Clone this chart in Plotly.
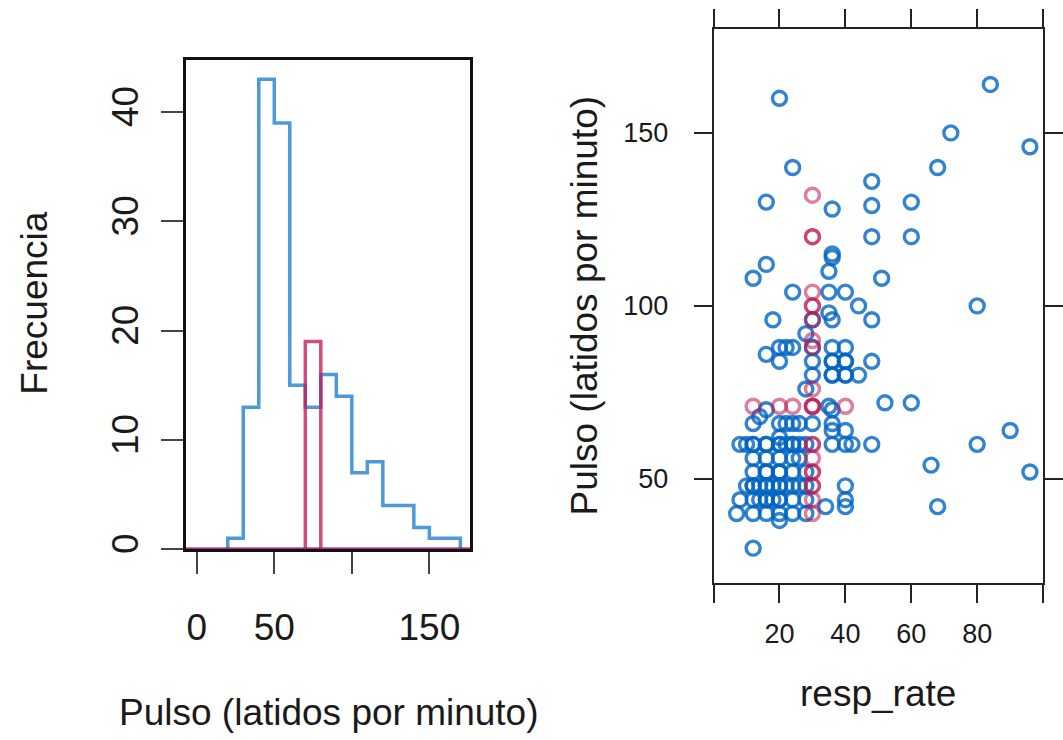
import plotly.graph_objects as go

# ---------------- data ----------------
# Histogram of pulse (observed = blue, imputed = red), bins of width 10
bin_edges_obs = [20, 30, 40, 50, 60, 70, 80, 90, 100, 110, 120, 130, 140, 150, 160, 170]
counts_obs = [1, 13, 43, 39, 15, 13, 16, 14, 7, 8, 4, 4, 2, 1, 1]
bin_edges_imp = [70, 80]
counts_imp = [19]

hist_xticks = [0, 50, 100, 150]
hist_xticklabels = ["0", "50", "", "150"]
hist_yticks = [0, 10, 20, 30, 40]
hist_xrange = [-7.2, 176.5]
hist_yrange = [0, 44.8]

# Scatter resp_rate vs pulse (observed = blue, imputed = red)
resp_obs = [20, 84, 72, 96, 24, 68, 48, 16, 36, 48, 60, 48, 60, 36, 36, 16, 35, 12, 51,
            24, 35, 40, 44, 80, 18, 30, 35, 36, 48, 28,
            20, 22, 24, 36, 40, 30, 16,
            20, 30, 36, 40, 48, 36, 40,
            30, 36, 40, 44, 36, 40,
            28, 52, 60, 35, 16, 36, 14,
            12, 20, 22, 24, 26, 30, 36, 36, 40,
            8, 10, 12, 16, 20, 22, 24, 26, 28, 36, 40, 42, 48, 80, 12, 16, 20, 24, 90,
            12, 16, 20, 24, 26, 20, 66,
            12, 16, 20, 24, 28, 16, 20, 96,
            10, 12, 14, 16, 18, 20, 22, 24, 26, 28, 40, 12, 16, 20,
            8, 12, 14, 16, 18, 20, 24, 28, 40, 16, 20,
            34, 40, 68,
            7, 12, 16, 20, 24, 28, 20, 12]
pulse_obs = [160, 164, 150, 146, 140, 140, 136, 130, 128, 129, 130, 120, 120, 114, 115, 112, 110, 108, 108,
             104, 104, 104, 100, 100, 96, 96, 98, 96, 96, 92,
             88, 88, 88, 88, 88, 88, 86,
             84, 84, 84, 84, 84, 84, 84,
             80, 80, 80, 80, 80, 80,
             76, 72, 72, 71, 70, 70, 68,
             66, 66, 66, 66, 66, 66, 66, 64, 64,
             60, 60, 60, 60, 60, 60, 60, 60, 60, 60, 60, 60, 60, 60, 60, 60, 60, 60, 64,
             56, 56, 56, 56, 56, 62, 54,
             52, 52, 52, 52, 52, 52, 52, 52,
             48, 48, 48, 48, 48, 48, 48, 48, 48, 48, 48, 48, 48, 48,
             44, 44, 44, 44, 44, 44, 44, 44, 44, 44, 44,
             42, 42, 42,
             40, 40, 40, 40, 40, 40, 38, 30]
resp_imp = [30, 30, 30, 30, 30, 30, 30, 30, 30, 30, 12, 20, 24, 30, 30, 30, 40,
            30, 30, 30, 30, 30, 30, 30, 30, 30]
pulse_imp = [132, 120, 120, 104, 100, 100, 96, 90, 88, 76, 71, 71, 71, 71, 71, 71, 71,
             60, 60, 56, 52, 52, 48, 48, 44, 40]

sc_xticks = [0, 20, 40, 60, 80, 100]
sc_xticklabels = ["", "20", "40", "60", "80", ""]
sc_yticks = [50, 100, 150]
sc_xrange = [0, 100]
sc_yrange = [20, 180]

# ---------------- style ----------------
BLUE_LINE = "rgba(0,110,205,0.70)"
RED_LINE = "rgba(195,25,90,0.78)"
BLUE_PT = "rgba(0,100,195,0.80)"
RED_PT = "rgba(190,20,80,0.55)"
FONT = "Liberation Sans, Arial, sans-serif"
TXT = "#1a1a1a"

W, H = 1063, 740


def xd(px):
    return px / W


def yd(py):
    return (H - py) / H


def step_path(edges, counts):
    xs, ys = [edges[0]], [0]
    for i, c in enumerate(counts):
        xs += [edges[i], edges[i + 1]]
        ys += [c, c]
    xs.append(edges[-1])
    ys.append(0)
    return xs, ys


fig = go.Figure()

bx, by = step_path(bin_edges_obs, counts_obs)
rx, ry = step_path(bin_edges_imp, counts_imp)

fig.add_trace(go.Scatter(x=hist_xrange, y=[0, 0], mode="lines", line=dict(color=BLUE_LINE, width=3.5),
                         xaxis="x", yaxis="y", hoverinfo="skip", showlegend=False))
fig.add_trace(go.Scatter(x=bx, y=by, mode="lines", line=dict(color=BLUE_LINE, width=3.5),
                         xaxis="x", yaxis="y", showlegend=False))
fig.add_trace(go.Scatter(x=rx, y=ry, mode="lines", line=dict(color=RED_LINE, width=3.5),
                         xaxis="x", yaxis="y", showlegend=False))
fig.add_trace(go.Scatter(x=hist_xrange, y=[0, 0], mode="lines", line=dict(color=RED_LINE, width=3.5),
                         xaxis="x", yaxis="y", hoverinfo="skip", showlegend=False))

fig.add_trace(go.Scatter(x=resp_obs, y=pulse_obs, mode="markers",
                         marker=dict(symbol="circle-open", size=14, color=BLUE_PT,
                                     line=dict(width=3.4, color=BLUE_PT)),
                         xaxis="x2", yaxis="y2", showlegend=False))
fig.add_trace(go.Scatter(x=resp_imp, y=pulse_imp, mode="markers",
                         marker=dict(symbol="circle-open", size=14, color=RED_PT,
                                     line=dict(width=3.4, color=RED_PT)),
                         xaxis="x2", yaxis="y2", showlegend=False))

fig.update_layout(
    width=W, height=H,
    margin=dict(l=0, r=0, t=0, b=0),
    paper_bgcolor="white", plot_bgcolor="white",
    font=dict(family=FONT, color=TXT),
    showlegend=False,
    xaxis=dict(domain=[xd(187), xd(474)], range=hist_xrange, showgrid=False, zeroline=False,
               showline=True, mirror=True, linecolor="#111", linewidth=2.5,
               ticks="outside", ticklen=22, tickwidth=2, tickcolor="#444",
               tickvals=hist_xticks, ticktext=hist_xticklabels,
               tickfont=dict(size=37, color=TXT), ticklabelstandoff=22, anchor="y"),
    yaxis=dict(domain=[yd(553), yd(60)], range=hist_yrange, showgrid=False, zeroline=False,
               showline=True, mirror=True, linecolor="#111", linewidth=2.5,
               ticks="outside", ticklen=22, tickwidth=2, tickcolor="#444",
               tickvals=hist_yticks, tickangle=-90,
               tickfont=dict(size=37, color=TXT), ticklabelstandoff=8, anchor="x"),
    xaxis2=dict(domain=[xd(719), xd(1051)], range=sc_xrange, showgrid=False, zeroline=False,
                showline=True, mirror="ticks", linecolor="#222", linewidth=2,
                ticks="outside", ticklen=18, tickwidth=2, tickcolor="#222",
                tickvals=sc_xticks, ticktext=sc_xticklabels,
                tickfont=dict(size=27, color=TXT), ticklabelstandoff=8, anchor="y2"),
    yaxis2=dict(domain=[yd(586.7), yd(29.3)], range=sc_yrange, showgrid=False, zeroline=False,
                showline=True, mirror="ticks", linecolor="#222", linewidth=2,
                ticks="outside", ticklen=18, tickwidth=2, tickcolor="#222",
                tickvals=sc_yticks,
                tickfont=dict(size=27, color=TXT), ticklabelstandoff=20, anchor="x2"),
    annotations=[
        dict(text="Frecuencia", x=xd(35), y=yd(305), xref="paper", yref="paper",
             showarrow=False, textangle=-90, font=dict(size=37, color=TXT, family=FONT),
             xanchor="center", yanchor="middle"),
        dict(text="Pulso (latidos por minuto)", x=xd(331), y=yd(717), xref="paper", yref="paper",
             showarrow=False, font=dict(size=37, color=TXT, family=FONT),
             xanchor="center", yanchor="middle"),
        dict(text="Pulso (latidos por minuto)", x=xd(589), y=yd(308), xref="paper", yref="paper",
             showarrow=False, textangle=-90, font=dict(size=37, color=TXT, family=FONT),
             xanchor="center", yanchor="middle"),
        dict(text="resp_rate", x=xd(885), y=yd(698), xref="paper", yref="paper",
             showarrow=False, font=dict(size=37, color=TXT, family=FONT),
             xanchor="center", yanchor="middle"),
    ],
)

fig.write_html("out.html", config={"displayModeBar": False},
               post_script="document.body.style.margin='0px';")
